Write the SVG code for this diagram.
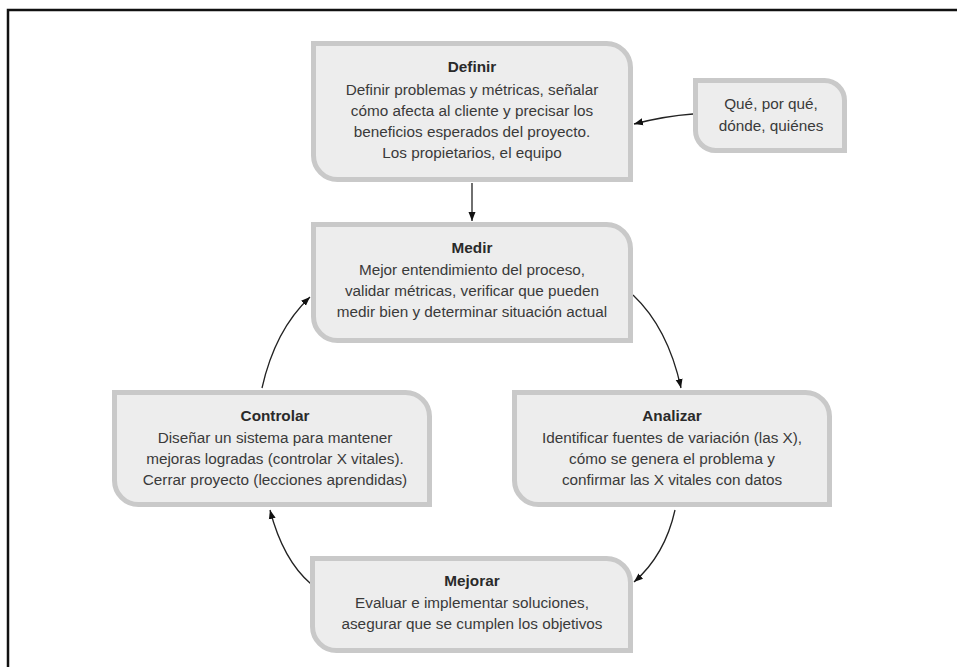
<svg xmlns="http://www.w3.org/2000/svg" width="957" height="667" viewBox="0 0 957 667">
<style>
.box{fill:#ededed;stroke:#c9c9c9;stroke-width:5}
.t{font-family:"Liberation Sans",Arial,sans-serif;font-size:15.3px;fill:#3a3a3a;text-anchor:middle}
.h{font-weight:bold;fill:#2a2a2a}
.c{fill:none;stroke:#222;stroke-width:1.3}
</style>
<defs>
<marker id="ah" markerUnits="userSpaceOnUse" markerWidth="10" markerHeight="8" refX="9" refY="4" orient="auto">
<path d="M0,0.5 L9,4 L0,7.5 Z" fill="#111"/>
</marker>
</defs>
<rect x="0" y="0" width="957" height="667" fill="#fff"/>
<rect x="8" y="10" width="970" height="680" fill="none" stroke="#111" stroke-width="2.5"/>

<g id="connectors">
<path class="c" d="M693,114 Q665,116 634,124" marker-end="url(#ah)"/>
<path class="c" d="M472,183 L472,221" marker-end="url(#ah)"/>
<path class="c" d="M633,295 Q668,328 681,388" marker-end="url(#ah)"/>
<path class="c" d="M675,510 Q665,555 634,582" marker-end="url(#ah)"/>
<path class="c" d="M311,584 Q283,560 270,510" marker-end="url(#ah)"/>
<path class="c" d="M262,388 Q275,330 310,297" marker-end="url(#ah)"/>
</g>

<g id="definir">
<path class="box" d="M313.5,43.5 H606.5 A24,24 0 0 1 630.5,67.5 V179.5 H337.5 A24,24 0 0 1 313.5,155.5 Z"/>
<text class="t h" x="472" y="72">Definir</text>
<text class="t" x="472" y="95">Definir problemas y métricas, señalar</text>
<text class="t" x="472" y="116">cómo afecta al cliente y precisar los</text>
<text class="t" x="472" y="137">beneficios esperados del proyecto.</text>
<text class="t" x="472" y="158">Los propietarios, el equipo</text>
</g>

<g id="que">
<path class="box" d="M695.5,80.5 H824.5 A20,20 0 0 1 844.5,100.5 V150.5 H715.5 A20,20 0 0 1 695.5,130.5 Z"/>
<text class="t" x="771" y="109">Qué, por qué,</text>
<text class="t" x="771" y="131">dónde, quiénes</text>
</g>

<g id="medir">
<path class="box" d="M313.5,224.5 H606.5 A24,24 0 0 1 630.5,248.5 V340.5 H337.5 A24,24 0 0 1 313.5,316.5 Z"/>
<text class="t h" x="472" y="253">Medir</text>
<text class="t" x="472" y="275">Mejor entendimiento del proceso,</text>
<text class="t" x="472" y="296">validar métricas, verificar que pueden</text>
<text class="t" x="472" y="317">medir bien y determinar situación actual</text>
</g>

<g id="controlar">
<path class="box" d="M114.5,392.5 H405.5 A24,24 0 0 1 429.5,416.5 V504.5 H138.5 A24,24 0 0 1 114.5,480.5 Z"/>
<text class="t h" x="275" y="421">Controlar</text>
<text class="t" x="275" y="443">Diseñar un sistema para mantener</text>
<text class="t" x="275" y="464">mejoras logradas (controlar X vitales).</text>
<text class="t" x="275" y="485">Cerrar proyecto (lecciones aprendidas)</text>
</g>

<g id="analizar">
<path class="box" d="M514.5,392.5 H805.5 A24,24 0 0 1 829.5,416.5 V504.5 H538.5 A24,24 0 0 1 514.5,480.5 Z"/>
<text class="t h" x="672" y="421">Analizar</text>
<text class="t" x="672" y="443">Identificar fuentes de variación (las X),</text>
<text class="t" x="672" y="464">cómo se genera el problema y</text>
<text class="t" x="672" y="485">confirmar las X vitales con datos</text>
</g>

<g id="mejorar">
<path class="box" d="M312.5,558.5 H606.5 A24,24 0 0 1 630.5,582.5 V650.5 H336.5 A24,24 0 0 1 312.5,626.5 Z"/>
<text class="t h" x="472" y="586">Mejorar</text>
<text class="t" x="472" y="608">Evaluar e implementar soluciones,</text>
<text class="t" x="472" y="629">asegurar que se cumplen los objetivos</text>
</g>
</svg>
